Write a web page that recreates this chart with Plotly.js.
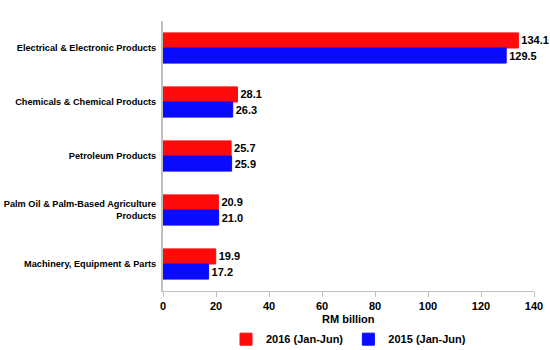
<!DOCTYPE html>
<html><head><meta charset="utf-8">
<script src="https://cdn.plot.ly/plotly-3.0.1.min.js"></script>
<style>body{margin:0;}#chart{width:550px;height:350px;}</style>
</head><body><div id="chart"></div>
<script>
const categories = ["Electrical & Electronic Products", "Chemicals & Chemical Products", "Petroleum Products", "Palm Oil & Palm-Based Agriculture<br>Products", "Machinery, Equipment & Parts"];
const values2016 = [134.1, 28.1, 25.7, 20.9, 19.9];
const values2015 = [129.5, 26.3, 25.9, 21.0, 17.2];
const seriesNames = ["2016 (Jan-Jun)", "2015 (Jan-Jun)"];
const xTicks = [0, 20, 40, 60, 80, 100, 120, 140];
const xTitle = "RM billion";

const fontFam = "Liberation Sans, Arial, sans-serif";
const colors = ["#ff0a0a", "#0a0aff"];
const mk = (name, vals, color) => ({
  type: "bar", orientation: "h", name: name, x: vals, y: categories,
  marker: {color: color, line: {color: color, width: 1}},
  text: vals.map(v => v.toFixed(1)), textposition: "outside",
  textfont: {family: fontFam, size: 11, color: "#000", weight: "bold"},
  cliponaxis: false, hoverinfo: "none"
});
const data = [mk(seriesNames[0], values2016, colors[0]), mk(seriesNames[1], values2015, colors[1])];
const layout = {
  width: 550, height: 350,
  margin: {l: 163, r: 16, t: 21, b: 59},
  paper_bgcolor: "#fff", plot_bgcolor: "#fff",
  barmode: "group", bargap: 0.44, bargroupgap: 0,
  font: {family: fontFam, size: 10, color: "#000"},
  showlegend: true,
  legend: {orientation: "h", x: 0.5, xanchor: "center", yref: "container", y: 0.031, yanchor: "middle",
    traceorder: "normal", itemwidth: 30, tracegroupgap: 0,
    font: {family: fontFam, size: 11, weight: "bold"}},
  xaxis: {range: [0, 140], tickvals: xTicks, showgrid: false, zeroline: false,
    showline: true, linecolor: "#bfbfbf", linewidth: 1, ticks: "outside", ticklen: 5, tickcolor: "#bfbfbf",
    tickfont: {family: fontFam, size: 11, weight: "bold"}},
  yaxis: {autorange: "reversed", showgrid: false, zeroline: false, showline: true, linecolor: "#bfbfbf", linewidth: 2,
    ticks: "", ticklen: 0, ticklabelstandoff: 3, tickfont: {family: fontFam, size: 9.2, weight: "bold"}},
  annotations: [{text: xTitle, xref: "paper", yref: "paper", x: 0.5, y: -0.104, xanchor: "center", yanchor: "middle",
    showarrow: false, font: {family: fontFam, size: 11, weight: "bold", color: "#000"}}]
};
Plotly.newPlot("chart", data, layout, {displayModeBar: false, staticPlot: true});
</script></body></html>
